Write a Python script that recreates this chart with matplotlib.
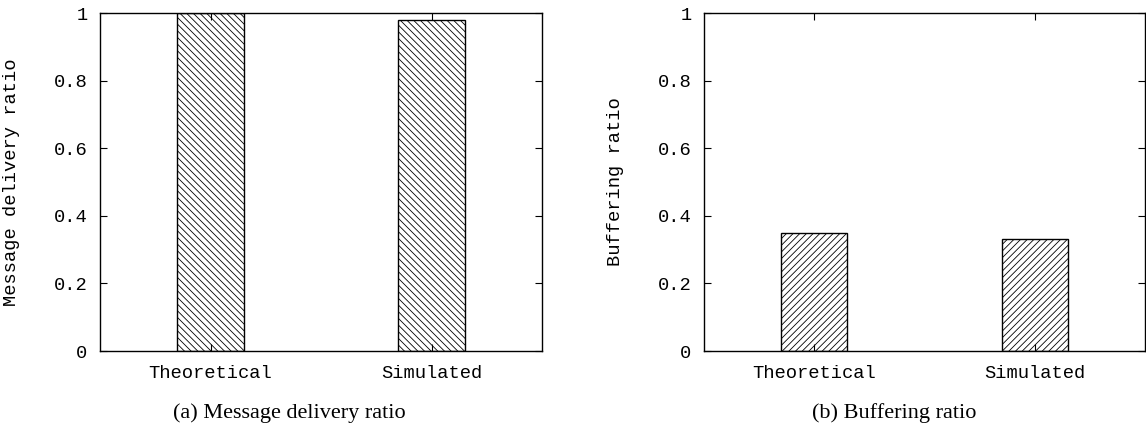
import matplotlib
matplotlib.use("Agg")
import matplotlib.pyplot as plt

# data
categories = ["Theoretical", "Simulated"]
delivery_ratio = [1.0, 0.98]
buffering_ratio = [0.35, 0.33]
yticks = [0, 0.2, 0.4, 0.6, 0.8, 1.0]
ytick_labels = ["0", "0.2", "0.4", "0.6", "0.8", "1"]

plt.rcParams['hatch.linewidth'] = 0.6
mono = "Liberation Mono"
serif = "Liberation Serif"

fig = plt.figure(figsize=(11.46, 4.29), dpi=100)
ax1 = fig.add_axes([100/1146, 78/429, 442/1146, 338/429])
ax2 = fig.add_axes([704/1146, 78/429, 441/1146, 338/429])


def draw(ax, values, hatch, ylabel):
    pos = list(range(1, len(categories) + 1))
    ax.bar(pos, values, width=0.3, color="white", edgecolor="black",
           linewidth=1.0, hatch=hatch)
    ax.set_xlim(0.5, 2.5)
    ax.set_ylim(0, 1)
    ax.set_xticks(pos)
    ax.set_xticklabels(categories, family=mono, fontsize=13.5)
    ax.set_yticks(yticks)
    ax.set_yticklabels(ytick_labels, family=mono, fontsize=13.5)
    ax.tick_params(direction="in", length=5, width=0.8, top=True, right=True)
    ax.tick_params(axis="y", pad=9)
    ax.tick_params(axis="x", pad=10)
    for s in ax.spines.values():
        s.set_linewidth(1.0)
    ax.set_ylabel(ylabel, family=mono, fontsize=13.5)
    ax.yaxis.set_label_coords(-0.181, 0.5)


draw(ax1, delivery_ratio, "\\" * 5, "Message delivery ratio")
draw(ax2, buffering_ratio, "/" * 5, "Buffering ratio")

fig.text(289/1146, 1 - 413/429, "(a) Message delivery ratio", family=serif,
         fontsize=16, ha="center", va="center")
fig.text(894/1146, 1 - 413/429, "(b) Buffering ratio", family=serif,
         fontsize=16, ha="center", va="center")

fig.savefig("out.png", dpi=100)
